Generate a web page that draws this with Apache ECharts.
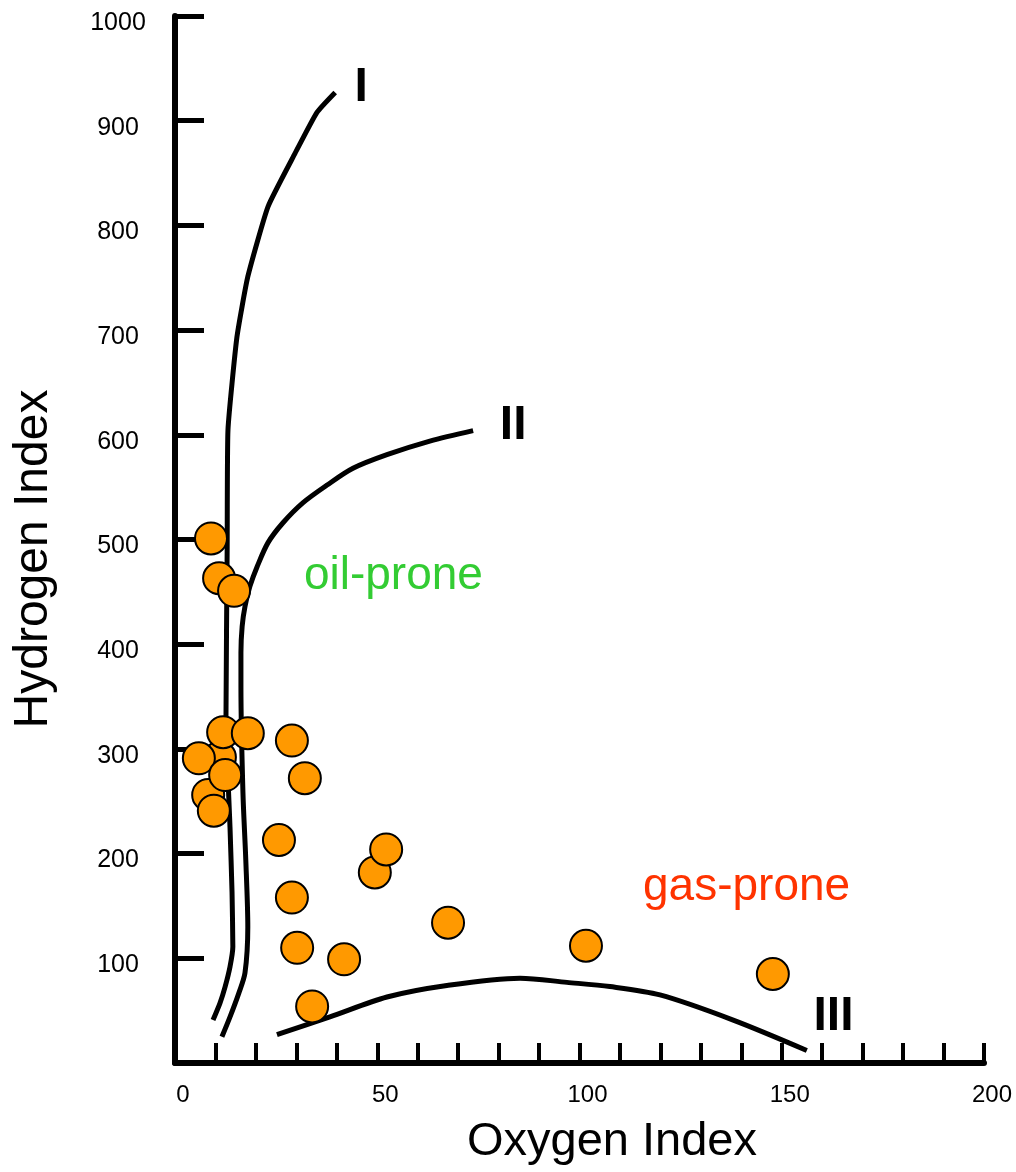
<!DOCTYPE html>
<html>
<head>
<meta charset="utf-8">
<script src="https://cdn.jsdelivr.net/npm/echarts@6/dist/echarts.min.js"></script>
<style>
html,body{margin:0;padding:0;background:#fff;}
#chart{width:1016px;height:1172px;}
</style>
</head>
<body>
<div id="chart"></div>
<script>
// Sample points (Oxygen Index, Hydrogen Index)
const sampleOI = [8.9, 10.9, 14.6, 11.1, 8.2, 11.9, 18.0, 5.9, 12.4, 9.6, 28.9, 32.1, 25.7, 28.9, 30.2, 41.8, 33.9, 49.4, 52.2, 67.5, 101.6, 147.8];
const sampleHI = [501, 463, 451, 292, 256, 316, 315, 291, 275, 241, 308, 272, 213, 158, 110, 99, 54, 182, 204, 134, 112, 85];

// Kerogen type evolution curves
const curveIx = [39.6, 35.1, 29.7, 23.0, 18.0, 15.3, 13.1, 12.9, 12.6, 13.6, 14.1, 14.3, 13.6, 12.4, 11.1, 9.4];
const curveIy = [927, 908, 869, 818, 751, 693, 605, 493, 328, 225, 163, 111, 92, 73, 57, 41];
const curveIIx = [73.7, 63.0, 52.4, 44.0, 37.6, 31.6, 26.7, 23.0, 20.3, 18.5, 17.3, 16.6, 16.3, 16.3, 16.8, 17.5, 18.0, 17.3, 15.8, 13.6, 11.6];
const curveIIy = [604, 594, 581, 568, 552, 535, 516, 497, 474, 455, 436, 417, 392, 359, 258, 194, 130, 86, 67, 44, 25];
const curveIIIx = [25.2, 38.3, 52.4, 67.2, 85.3, 96.9, 107.5, 119.9, 138.0, 156.2];
const curveIIIy = [27, 44, 63, 74, 81, 77, 73, 65, 41, 12];

// Curve labels
const typeLabels = ['I', 'II', 'III'];
const typeLabelX = [46.0, 83.6, 162.8];
const typeLabelY = [931, 609, 44];

// Region labels
const regionLabels = ['oil-prone', 'gas-prone'];
const regionLabelX = [54.0, 141.3];
const regionLabelY = [465, 168];
const regionColors = ['#33cc33', '#ff3300'];

// Axes
const xMin = 0, xMax = 200, xStep = 10, xLabelStep = 50;
const yMin = 0, yMax = 1000, yStep = 100;
const xTitle = 'Oxygen Index';
const yTitle = 'Hydrogen Index';

const FONT = '"Liberation Sans", Arial, Helvetica, sans-serif';
const zip = (a, b) => a.map((v, i) => [v, b[i]]);

const curveSeries = (xs, ys, smooth) => ({
  type: 'line',
  data: zip(xs, ys),
  showSymbol: false,
  symbol: 'none',
  smooth: smooth,
  lineStyle: { color: '#000', width: 5, cap: 'butt', join: 'round' },
  silent: true,
  z: 2
});

const chart = echarts.init(document.getElementById('chart'), null, { renderer: 'canvas' });
chart.setOption({
  animation: false,
  backgroundColor: '#fff',
  grid: { left: 175, right: 32, top: 16, bottom: 109, containLabel: false },
  xAxis: {
    type: 'value', min: xMin, max: xMax, interval: xStep,
    axisLine: { show: true, lineStyle: { color: '#000', width: 6 } },
    axisTick: { show: true, inside: true, length: 20, lineStyle: { color: '#000', width: 4 } },
    axisLabel: {
      margin: 20, color: '#000', fontSize: 24, fontFamily: FONT,
      padding: [0, 0, 0, 16],
      formatter: v => (v % xLabelStep === 0 ? String(v) : '')
    },
    splitLine: { show: false }
  },
  yAxis: {
    type: 'value', min: yMin, max: yMax, interval: yStep,
    axisLine: { show: true, lineStyle: { color: '#000', width: 6 } },
    axisTick: { show: true, inside: true, length: 29, lineStyle: { color: '#000', width: 5 } },
    axisLabel: {
      margin: 57, align: 'center', color: '#000', fontSize: 25, fontFamily: FONT,
      formatter: v => (v === 0 ? '' : '{t|' + v + '}'),
      rich: { t: { fontSize: 25, fontFamily: FONT, color: '#000', padding: [14, 0, 0, 0] } }
    },
    splitLine: { show: false }
  },
  graphic: [
    {
      type: 'text', x: 612, y: 1142,
      style: { text: xTitle, font: '47px ' + FONT, fill: '#000', textAlign: 'center', textVerticalAlign: 'middle' }
    },
    {
      type: 'text', x: 34, y: 559, rotation: Math.PI / 2,
      style: { text: yTitle, font: '48px ' + FONT, fill: '#000', textAlign: 'center', textVerticalAlign: 'middle' }
    }
  ],
  series: [
    curveSeries(curveIx, curveIy, 0.15),
    curveSeries(curveIIx, curveIIy, 0.3),
    curveSeries(curveIIIx, curveIIIy, 0.3),
    {
      type: 'scatter',
      data: zip(sampleOI, sampleHI),
      symbol: 'circle',
      symbolSize: 32,
      itemStyle: { color: '#ff9900', borderColor: '#000', borderWidth: 2, opacity: 1 },
      z: 5
    },
    {
      type: 'scatter',
      data: typeLabels.map((t, i) => ({ value: [typeLabelX[i], typeLabelY[i]], name: t })),
      symbolSize: 0,
      silent: true,
      itemStyle: { opacity: 1 },
      label: {
        show: true, position: 'inside', formatter: p => p.name,
        color: '#000', fontSize: 48, fontWeight: 'bold', fontFamily: FONT
      },
      z: 6
    },
    {
      type: 'scatter',
      data: regionLabels.map((t, i) => ({
        value: [regionLabelX[i], regionLabelY[i]], name: t,
        label: { color: regionColors[i] }
      })),
      symbolSize: 0,
      silent: true,
      itemStyle: { opacity: 1 },
      label: {
        show: true, position: 'inside', formatter: p => p.name,
        fontSize: 46, fontFamily: FONT
      },
      z: 6
    }
  ]
});
</script>
</body>
</html>
